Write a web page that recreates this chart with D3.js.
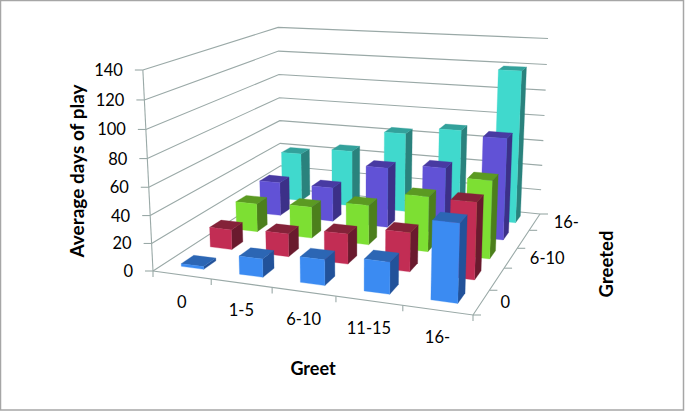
<!DOCTYPE html>
<html><head><meta charset="utf-8">
<script src="https://cdn.jsdelivr.net/npm/d3@7"></script>
<style>html,body{margin:0;padding:0;background:#fff}svg{display:block}text{font-family:Lato,"Open Sans",sans-serif;fill:#000}</style>
</head><body><svg id="c" width="685" height="411"></svg>
<script>
const greet = ["0","1-5","6-10","11-15","16-"];
const greeted = ["0","1-5","6-10","11-15","16-"];
const greetedLabels = ["0","6-10","16-"];
const ticks = [0,20,40,60,80,100,120,140];
const row0 = [2,13,18,22,53];
const row1 = [15,17,22,28,54];
const row2 = [22,24,30,41,57];
const row3 = [27,27,47,51,77];
const row4 = [40,46,64,70,119];
const rows = [row0,row1,row2,row3,row4];
const palette = [
 {front:"#3b8bf2",top:"#2c66b4",side:"#22529a"},
 {front:"#c22d54",top:"#842239",side:"#6a1a2e"},
 {front:"#7ddf33",top:"#5b9a22",side:"#4c7f1c"},
 {front:"#6152d6",top:"#483aa2",side:"#3c3088"},
 {front:"#40d9cd",top:"#33a19b",side:"#2a827d"}];
const axisColor = "#9aa9a7";

// projective camera fitted to the box corners
const floorPts = [[0,0,153,271],[1,0,473,315],[1,1,540,214],[0,1,281,188]];
const topPts = [[0,0,143,70],[0,1,278,26],[1,1,548,40]];
function solve(A,b){const n=b.length,M=A.map((r,i)=>[...r,b[i]]);
 for(let i=0;i<n;i++){let p=i;for(let k=i+1;k<n;k++)if(Math.abs(M[k][i])>Math.abs(M[p][i]))p=k;[M[i],M[p]]=[M[p],M[i]];
  for(let k=0;k<n;k++)if(k!==i){const f=M[k][i]/M[i][i];for(let j=i;j<=n;j++)M[k][j]-=f*M[i][j];}}
 return M.map((r,i)=>r[n]/r[i]);}
const A=[],B=[];
floorPts.forEach(([x,z,u,v])=>{A.push([x,z,1,0,0,0,-u*x,-u*z]);B.push(u);A.push([0,0,0,x,z,1,-v*x,-v*z]);B.push(v);});
const h=solve(A,B);h.push(1);
const base=(x,z)=>[h[0]*x+h[1]*z+h[2],h[3]*x+h[4]*z+h[5],h[6]*x+h[7]*z+h[8]];
const R=[],S=[];
topPts.forEach(([x,z,u,v])=>{const [X,Y,W]=base(x,z);R.push([1,0,-u]);S.push(u*W-X);R.push([0,1,-v]);S.push(v*W-Y);});
const N=[0,1,2].map(i=>[0,1,2].map(j=>d3.sum(R,r=>r[i]*r[j])));
const T=[0,1,2].map(i=>d3.sum(R,(r,k)=>r[i]*S[k]));
const vc=solve(N,T);
const project=(x,z,t)=>{const [X,Y,W]=base(x,z);const w=W+vc[2]*t;return [(X+vc[0]*t)/w,(Y+vc[1]*t)/w];};

const xS=d3.scaleBand().domain(greet).range([0,1]);
const zS=d3.scaleBand().domain(greeted).range([0,1]);
const vS=d3.scaleLinear().domain([0,140]).range([0,1]);
const barW=0.39, barD=0.42, barShift=0.005, depthShift=0.05;
const svg=d3.select("#c");
const line=d3.line();
svg.append("rect").attr("x",0.5).attr("y",0.5).attr("width",683).attr("height",409.5).attr("fill","#fff").attr("stroke","#a6a6a6").attr("stroke-width",1.5);

const grid=svg.append("g").attr("fill","none").attr("stroke",axisColor).attr("stroke-width",1.1);
ticks.forEach(t=>{const u=vS(t);
 const a=project(0,0,u),b=project(0,1,u),c=project(1,1,u);
 grid.append("path").attr("d",line([a,b,c]));
 grid.append("path").attr("d",line([[a[0]-8,a[1]],a]));
});
grid.append("path").attr("d",line([project(0,0,0),project(0,0,1)]));
grid.append("path").attr("d",line([project(0,0,0),project(1,0,0),project(1,1,0)]));
const off=[0,1,2,3,4,5].map(i=>i/5);
off.forEach(f=>{const p=project(f,0,0);grid.append("path").attr("d",line([p,[p[0],p[1]+6]]));
 const q=project(1,f,0);grid.append("path").attr("d",line([q,[q[0]+8,q[1]]]));});

const bars=svg.append("g");
d3.range(4,-1,-1).forEach(r=>{
 d3.range(4,-1,-1).forEach(c=>{
  const cx=xS(greet[c])+xS.bandwidth()*(0.5+barShift), cz=zS(greeted[r])+zS.bandwidth()*(0.5+depthShift);
  const hw=xS.bandwidth()*barW/2, hd=zS.bandwidth()*barD/2, t=vS(rows[r][c]);
  const x0=cx-hw,x1=cx+hw,z0=cz-hd,z1=cz+hd,col=palette[r];
  const g=bars.append("g").attr("stroke-width",0.3);
  const face=(pts,f)=>g.append("path").attr("d",line(pts)+"Z").attr("fill",f).attr("stroke",f);
  face([project(x1,z0,0),project(x1,z1,0),project(x1,z1,t),project(x1,z0,t)],col.side);
  face([project(x0,z0,t),project(x1,z0,t),project(x1,z1,t),project(x0,z1,t)],col.top);
  face([project(x0,z0,0),project(x1,z0,0),project(x1,z0,t),project(x0,z0,t)],col.front);
 });
});

const lab=svg.append("g");
ticks.forEach(t=>{const p=project(0,0,vS(t));
 lab.append("text").attr("x",p[0]-20).attr("y",p[1]+6).attr("text-anchor","end").attr("font-size",16.5).text(t);});
greet.forEach((g,i)=>{const p=project(xS(g)+xS.bandwidth()/2,0,0);
 lab.append("text").attr("x",p[0]).attr("y",p[1]+33).attr("text-anchor","middle").attr("font-size",16.5).text(g);});
greetedLabels.forEach(g=>{const p=project(1,zS(g)+zS.bandwidth()/2,0);
 lab.append("text").attr("x",p[0]+19).attr("y",p[1]+6).attr("font-size",16.5).text(g);});
lab.append("text").attr("transform","translate(84,171) rotate(-90)").attr("text-anchor","middle").attr("font-size",19).attr("font-weight","bold").text("Average days of play");
lab.append("text").attr("x",313).attr("y",375).attr("text-anchor","middle").attr("font-size",18).attr("font-weight","bold").text("Greet");
lab.append("text").attr("transform","translate(613,264) rotate(-90)").attr("text-anchor","middle").attr("font-size",18.5).attr("font-weight","bold").text("Greeted");
</script></body></html>
